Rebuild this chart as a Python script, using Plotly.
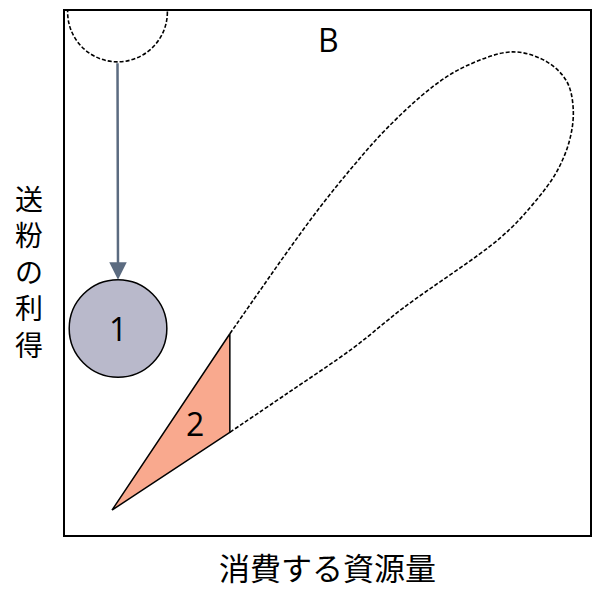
import plotly.graph_objects as go

# axes: 0..10 resource consumed (x) vs pollination benefit (y)
x_title = "消費する資源量"
y_title = "送粉の利得"
panel_label = "B"

# strategy 1: circle, moved down from the dashed half circle at the top
start_center = (1.0, 9.98)
start_radius = 0.95
c1_center = (1.01, 3.94)
c1_radius = 0.93
c1_label = "1"

# strategy 2: triangle region
tri_x = [0.895, 3.14, 3.14, 0.895]
tri_y = [0.475, 3.84, 1.96, 0.475]
tri_label = "2"
tri_label_pos = (2.48, 2.13)

# dashed loop of possible strategies
loop_x = [3.14, 3.71, 4.23, 4.86, 5.49, 6.13, 7.01, 7.66, 8.53, 9.18, 9.56, 9.68,
          9.62, 9.37, 8.91, 8.29, 6.44, 5.49, 4.23, 3.14]
loop_y = [3.84, 4.66, 5.40, 6.26, 7.04, 7.76, 8.56, 8.96, 9.22, 9.03, 8.65, 8.14,
          7.57, 6.94, 6.31, 5.67, 4.33, 3.57, 2.70, 1.96]

font_fam = "Open Sans, Noto Sans CJK JP, sans-serif"

fig = go.Figure()

fig.add_trace(go.Scatter(
    x=loop_x, y=loop_y, mode="lines",
    line=dict(color="black", width=1.6, dash="4px,2px", shape="spline", smoothing=1),
    hoverinfo="skip"
))

fig.add_trace(go.Scatter(
    x=tri_x, y=tri_y, mode="lines", fill="toself",
    fillcolor="#f9a98e", line=dict(color="black", width=1.5),
    hoverinfo="skip"
))

# dashed half circle at top (clipped by plot area)
fig.add_shape(
    type="circle", xref="x", yref="y",
    x0=start_center[0] - start_radius, x1=start_center[0] + start_radius,
    y0=start_center[1] - start_radius, y1=start_center[1] + start_radius,
    line=dict(color="black", width=1.6, dash="4px,2px")
)

fig.add_shape(
    type="circle", xref="x", yref="y",
    x0=c1_center[0] - c1_radius, x1=c1_center[0] + c1_radius,
    y0=c1_center[1] - c1_radius, y1=c1_center[1] + c1_radius,
    fillcolor="#b9b9cb", line=dict(color="black", width=1.5)
)

# arrow from the half circle to circle 1
fig.add_annotation(
    x=c1_center[0], y=c1_center[1] + c1_radius,
    ax=start_center[0], ay=start_center[1] - start_radius,
    xref="x", yref="y", axref="x", ayref="y",
    text="", showarrow=True, arrowhead=2, arrowsize=1.4,
    arrowwidth=2.5, arrowcolor="#5b6b80", standoff=0
)

fig.add_annotation(x=c1_center[0], y=c1_center[1], text=c1_label, showarrow=False,
                   font=dict(size=32, color="black", family=font_fam))
fig.add_annotation(x=tri_label_pos[0], y=tri_label_pos[1], text=tri_label, showarrow=False,
                   font=dict(size=32, color="black", family=font_fam))
fig.add_annotation(x=5.01, y=9.45, text=panel_label, showarrow=False,
                   font=dict(size=32, color="black", family=font_fam))

fig.add_annotation(x=0.5, y=-0.063, xref="paper", yref="paper", text=x_title,
                   showarrow=False, yanchor="middle",
                   font=dict(size=31, color="black", family=font_fam))

# vertical title, one character per line
fig.add_annotation(x=-0.068, y=0.502, xref="paper", yref="paper",
                   text="<br>".join(y_title), showarrow=False,
                   yanchor="middle", xanchor="center",
                   font=dict(size=28, color="black", family=font_fam))

axis_style = dict(range=[0, 10], showgrid=False, zeroline=False, showticklabels=False,
                  ticks="", showline=True, linecolor="black", linewidth=1.5, mirror=True,
                  fixedrange=True)
fig.update_xaxes(**axis_style)
fig.update_yaxes(**axis_style)

fig.update_layout(
    width=592, height=592,
    margin=dict(l=57, r=10, t=1, b=65),
    plot_bgcolor="white", paper_bgcolor="white",
    showlegend=False,
    font=dict(family=font_fam)
)

fig.write_html("out.html")
